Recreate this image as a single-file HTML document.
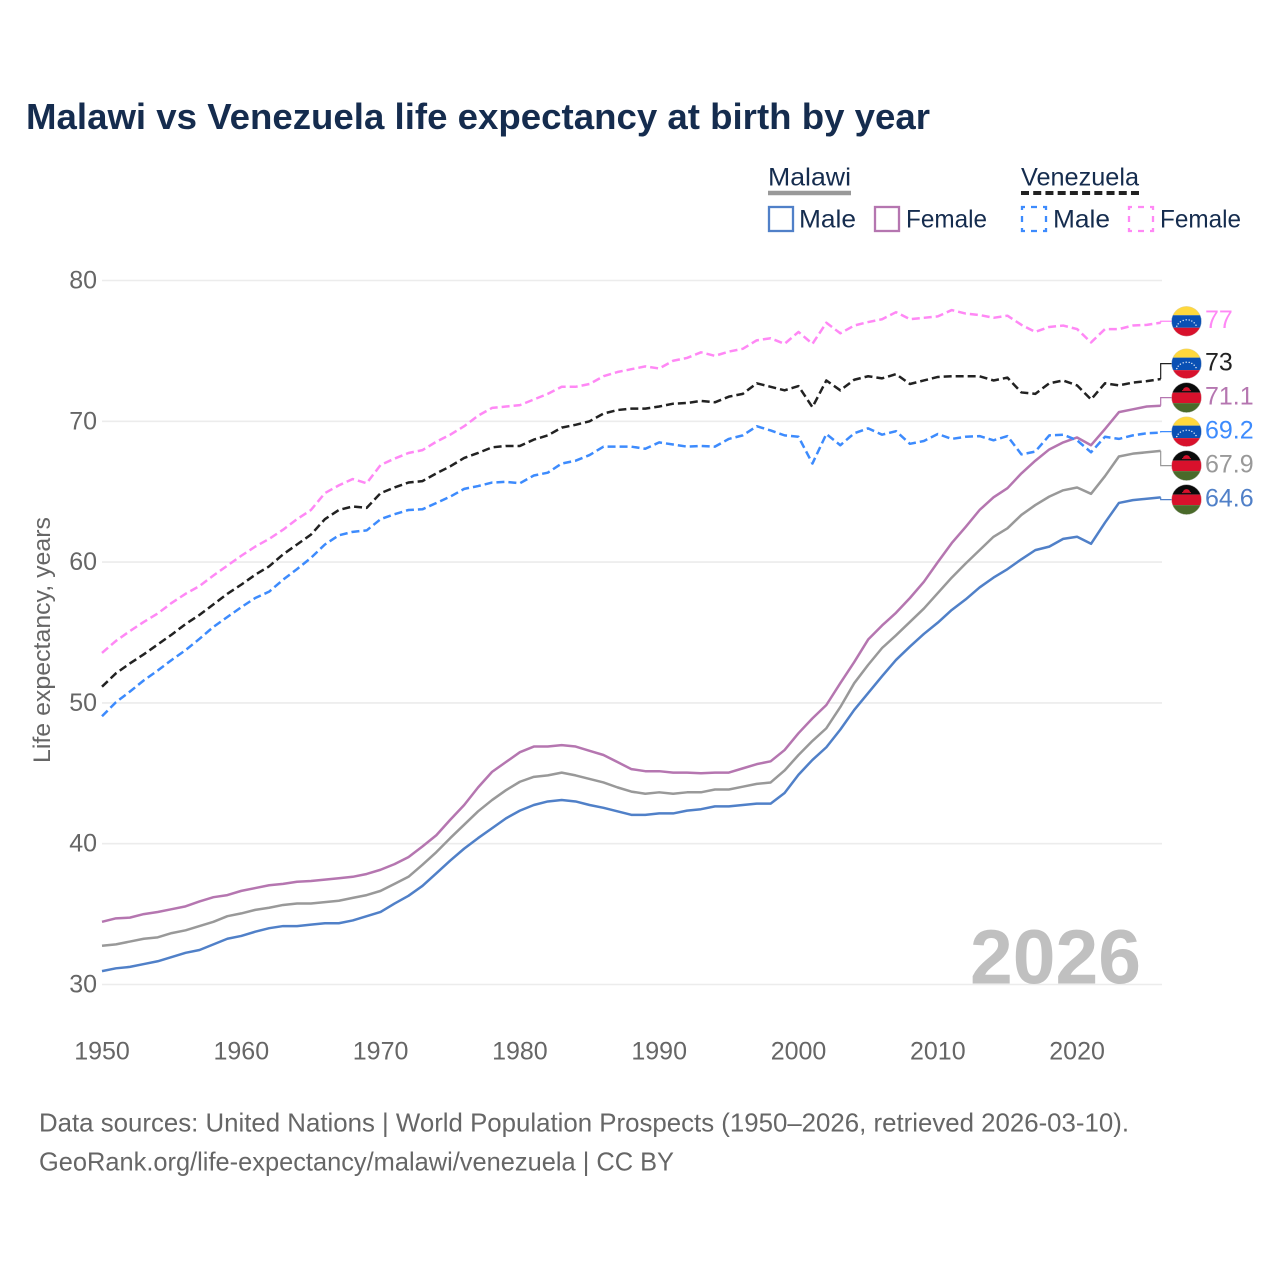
<!DOCTYPE html>
<html lang="en">
<head>
<meta charset="utf-8">
<title>Malawi vs Venezuela life expectancy at birth by year</title>
<style>
  html, body { margin: 0; padding: 0; background: #fff; }
  svg { display: block; font-family: "Liberation Sans", sans-serif; }
</style>
</head>
<body>
<svg id="chart" xmlns="http://www.w3.org/2000/svg" width="1280" height="1280" viewBox="0 0 1280 1280">
  <defs>
    <clipPath id="flag-clip"><circle cx="0" cy="0" r="15"/></clipPath>
  </defs>
  <rect width="1280" height="1280" fill="#fff"/>
  <text x="26" y="129" font-size="36" font-weight="700" fill="#152c4e" textLength="904" lengthAdjust="spacingAndGlyphs">Malawi vs Venezuela life expectancy at birth by year</text>

  <g>
    <text x="768" y="185.5" font-size="25" fill="#152c4e" textLength="83" lengthAdjust="spacingAndGlyphs">Malawi</text>
    <line x1="768" x2="851" y1="193" y2="193" stroke="#999" stroke-width="4.5"/>
    <text x="1021" y="185.5" font-size="25" fill="#152c4e" textLength="118" lengthAdjust="spacingAndGlyphs">Venezuela</text>
    <line x1="1021" x2="1139" y1="193" y2="193" stroke="#222" stroke-width="4" stroke-dasharray="8 4.22"/>

    <rect x="769" y="207" width="24" height="24" fill="none" stroke="#5080c8" stroke-width="2.3"/>
    <text x="799" y="227.5" font-size="25" fill="#152c4e" textLength="57" lengthAdjust="spacingAndGlyphs">Male</text>
    <rect x="875" y="207" width="24" height="24" fill="none" stroke="#b576b0" stroke-width="2.3"/>
    <text x="906" y="227.5" font-size="25" fill="#152c4e" textLength="81" lengthAdjust="spacingAndGlyphs">Female</text>
    <rect x="1022" y="207" width="24" height="24" fill="none" stroke="#3d8bfd" stroke-width="2.3" stroke-dasharray="6 6" stroke-dashoffset="3"/>
    <text x="1053" y="227.5" font-size="25" fill="#152c4e" textLength="57" lengthAdjust="spacingAndGlyphs">Male</text>
    <rect x="1129" y="207" width="24" height="24" fill="none" stroke="#ff88f5" stroke-width="2.3" stroke-dasharray="6 6" stroke-dashoffset="3"/>
    <text x="1160" y="227.5" font-size="25" fill="#152c4e" textLength="81" lengthAdjust="spacingAndGlyphs">Female</text>
  </g>

  <g id="grid"></g>
  <g id="y-ticks"></g>
  <g id="x-ticks"></g>
  <text transform="translate(50,640) rotate(-90)" text-anchor="middle" font-size="24" fill="#666" textLength="246" lengthAdjust="spacingAndGlyphs">Life expectancy, years</text>

  <text x="970" y="983.5" font-size="77" font-weight="700" fill="#c0c0c0" textLength="171" lengthAdjust="spacingAndGlyphs">2026</text>

  <g id="series"></g>
  <g id="labels"></g>

  <text x="39" y="1131.5" font-size="26" fill="#666" textLength="1090" lengthAdjust="spacingAndGlyphs">Data sources: United Nations | World Population Prospects (1950–2026, retrieved 2026-03-10).</text>
  <text x="39" y="1170.5" font-size="26" fill="#666" textLength="635" lengthAdjust="spacingAndGlyphs">GeoRank.org/life-expectancy/malawi/venezuela | CC BY</text>
</svg>

<script>
const firstYear = 1950;
const yTicks = [30, 40, 50, 60, 70, 80];
const xTicks = [1950, 1960, 1970, 1980, 1990, 2000, 2010, 2020];

const malawiMale = [
  30.95,31.15,31.25,31.45,31.65,31.95,32.25,32.45,32.85,33.25,
  33.45,33.75,34.0,34.15,34.15,34.25,34.35,34.35,34.55,34.85,
  35.15,35.75,36.3,37.0,37.9,38.8,39.65,40.4,41.1,41.8,
  42.35,42.75,43.0,43.1,43.0,42.75,42.55,42.3,42.05,42.05,
  42.15,42.15,42.35,42.45,42.65,42.65,42.75,42.85,42.85,43.6,
  44.9,45.95,46.85,48.1,49.5,50.7,51.9,53.05,54.0,54.9,
  55.7,56.6,57.35,58.2,58.9,59.5,60.2,60.85,61.1,61.65,
  61.8,61.3,62.8,64.2,64.4,64.5,64.6];
const malawiFemale = [
  34.45,34.7,34.75,35.0,35.15,35.35,35.55,35.9,36.2,36.35,
  36.65,36.85,37.05,37.15,37.3,37.35,37.45,37.55,37.65,37.85,
  38.15,38.55,39.05,39.8,40.6,41.7,42.75,44.0,45.1,45.8,
  46.5,46.9,46.9,47.0,46.9,46.6,46.3,45.8,45.3,45.15,
  45.15,45.05,45.05,45.0,45.05,45.05,45.35,45.65,45.85,46.65,
  47.85,48.9,49.85,51.4,52.9,54.5,55.5,56.4,57.45,58.6,
  60.0,61.35,62.5,63.7,64.6,65.25,66.3,67.2,68.0,68.5,
  68.85,68.3,69.45,70.65,70.85,71.05,71.1];
const malawiBoth = [
  32.75,32.85,33.05,33.25,33.35,33.65,33.85,34.15,34.45,34.85,
  35.05,35.3,35.45,35.65,35.75,35.75,35.85,35.95,36.15,36.35,
  36.65,37.15,37.65,38.5,39.4,40.4,41.35,42.3,43.1,43.8,
  44.4,44.75,44.85,45.05,44.85,44.6,44.35,44.0,43.7,43.55,
  43.65,43.55,43.65,43.65,43.85,43.85,44.05,44.25,44.35,45.2,
  46.3,47.3,48.2,49.7,51.4,52.7,53.9,54.8,55.75,56.7,
  57.8,58.9,59.9,60.85,61.8,62.4,63.35,64.05,64.65,65.1,
  65.3,64.85,66.1,67.5,67.7,67.8,67.9];
const venezuelaMale = [
  49.05,50.05,50.8,51.6,52.3,53.05,53.75,54.55,55.4,56.1,
  56.8,57.45,57.9,58.75,59.5,60.3,61.25,61.9,62.15,62.25,
  63.05,63.4,63.7,63.75,64.2,64.65,65.2,65.4,65.65,65.7,
  65.6,66.15,66.35,67.0,67.2,67.6,68.2,68.2,68.2,68.05,
  68.5,68.35,68.2,68.25,68.2,68.75,69.0,69.65,69.35,69.0,
  68.9,67.0,69.1,68.3,69.15,69.5,69.05,69.3,68.4,68.6,
  69.1,68.75,68.9,68.95,68.65,68.95,67.65,67.85,69.0,69.05,
  68.65,67.8,68.9,68.75,69.0,69.15,69.2];
const venezuelaFemale = [
  53.55,54.4,55.1,55.75,56.35,57.1,57.75,58.3,59.05,59.75,
  60.45,61.1,61.65,62.3,63.05,63.7,64.9,65.45,65.9,65.6,
  66.9,67.35,67.75,67.95,68.55,69.05,69.65,70.4,70.95,71.05,
  71.15,71.55,71.95,72.45,72.45,72.65,73.2,73.5,73.7,73.9,
  73.75,74.3,74.5,74.9,74.65,74.95,75.15,75.75,75.9,75.5,
  76.35,75.5,77.0,76.25,76.8,77.05,77.25,77.75,77.25,77.35,
  77.45,77.9,77.65,77.55,77.35,77.5,76.85,76.35,76.7,76.8,
  76.55,75.6,76.55,76.55,76.8,76.85,77];
const venezuelaBoth = [
  51.15,52.1,52.8,53.45,54.15,54.85,55.6,56.25,57.0,57.75,
  58.4,59.1,59.7,60.55,61.25,61.95,63.05,63.7,63.95,63.85,
  64.9,65.3,65.65,65.75,66.3,66.8,67.4,67.75,68.15,68.25,
  68.25,68.7,69.0,69.55,69.75,70.0,70.55,70.8,70.9,70.9,
  71.05,71.25,71.3,71.45,71.35,71.75,71.95,72.7,72.45,72.2,
  72.5,71.0,72.9,72.2,72.95,73.2,73.05,73.35,72.65,72.9,
  73.15,73.2,73.2,73.2,72.9,73.1,72.05,71.95,72.7,72.9,
  72.55,71.55,72.7,72.55,72.75,72.85,73];

const NS = 'http://www.w3.org/2000/svg';
const xScale = function (year) { return 102 + (year - 1950) * 13.93; };
const yScale = function (value) { return 984.5 - (value - 30) * 14.08; };

const seriesList = [
  { key: 'malawi-male', values: malawiMale, color: '#5080c8', dash: '', flag: 'mw' },
  { key: 'malawi-female', values: malawiFemale, color: '#b576b0', dash: '', flag: 'mw' },
  { key: 'malawi-both', values: malawiBoth, color: '#999999', dash: '', flag: 'mw' },
  { key: 'venezuela-male', values: venezuelaMale, color: '#3d8bfd', dash: '8 4', flag: 've' },
  { key: 'venezuela-female', values: venezuelaFemale, color: '#ff88f5', dash: '8 4', flag: 've' },
  { key: 'venezuela-both', values: venezuelaBoth, color: '#222222', dash: '8 4', flag: 've' }
];

function make(tag, attrs, parent) {
  const el = document.createElementNS(NS, tag);
  Object.keys(attrs).forEach(function (k) { el.setAttribute(k, attrs[k]); });
  if (parent) parent.appendChild(el);
  return el;
}

const gridGroup = document.getElementById('grid');
const yTickGroup = document.getElementById('y-ticks');
const xTickGroup = document.getElementById('x-ticks');
const seriesGroup = document.getElementById('series');
const labelGroup = document.getElementById('labels');

yTicks.forEach(function (t) {
  const line = make('line', { x1: 102, x2: 1162, y1: yScale(t), y2: yScale(t), stroke: '#ececec', 'stroke-width': 1.6 }, gridGroup);
  
  
  const label = make('text', { x: 97, y: yScale(t) + 8, 'text-anchor': 'end', 'font-size': 25, fill: '#666' }, yTickGroup);
  
  
  label.textContent = t;
});

xTicks.forEach(function (t) {
  const label = make('text', { x: xScale(t), y: 1059.5, 'text-anchor': 'middle', 'font-size': 25, fill: '#666' }, xTickGroup);
  
  
  label.textContent = t;
});

seriesList.forEach(function (s) {
  const points = s.values.map(function (v, i) {
    return xScale(firstYear + i).toFixed(2) + ',' + yScale(v).toFixed(2);
  });
  const attrs = { d: 'M' + points.join('L'), fill: 'none', stroke: s.color, 'stroke-width': 2.5, 'stroke-linejoin': 'round' };
  if (s.dash) attrs['stroke-dasharray'] = s.dash;
  const path = make('path', attrs, seriesGroup);
  
  
});

/* dodge end labels: overlapping labels are merged in clusters centred on their true positions */
const LABEL_GAP = 34;
const LABEL_SHIFT = -1.5;
const ordered = seriesList.map(function (s) {
  return { s: s, last: s.values[s.values.length - 1], trueY: yScale(s.values[s.values.length - 1]) };
}).sort(function (a, b) { return a.trueY - b.trueY; });

let clusters = ordered.map(function (o) { return { items: [o], sum: o.trueY }; });
function clusterTop(c) { return c.sum / c.items.length - (c.items.length - 1) * LABEL_GAP / 2; }
let merged = true;
while (merged) {
  merged = false;
  for (let i = 0; i < clusters.length - 1; i++) {
    const a = clusters[i], b = clusters[i + 1];
    if (clusterTop(a) + (a.items.length - 1) * LABEL_GAP + LABEL_GAP > clusterTop(b)) {
      clusters.splice(i, 2, { items: a.items.concat(b.items), sum: a.sum + b.sum });
      merged = true;
      break;
    }
  }
}
clusters.forEach(function (c) {
  const top = clusterTop(c);
  c.items.forEach(function (o, i) { o.labelY = top + i * LABEL_GAP + LABEL_SHIFT; });
});

function drawFlag(parent, kind, cy) {
  const g = make('g', { transform: 'translate(1186.5,' + cy + ')', 'clip-path': 'url(#flag-clip)' }, parent);
  
  
  if (kind === 've') {
    make('rect', { x: -16, y: -16, width: 32, height: 10, fill: '#ffd83d' }, g);
    make('rect', { x: -16, y: -6, width: 32, height: 12.5, fill: '#0a50b4' }, g);
    make('rect', { x: -16, y: 6.5, width: 32, height: 10, fill: '#d8112c' }, g);
    [[-10,5],[-8.6,2.6],[-6.4,0.6],[-3.6,-0.8],[-0.6,-1.4],[2.4,-1.2],[5,-0.2],[7.4,1.6],[9.2,4]].forEach(function (d) {
      make('circle', { cx: d[0] + 0.3, cy: d[1], r: 0.7, fill: '#e8eef8' }, g);
    });
  } else {
    make('rect', { x: -16, y: -16, width: 32, height: 11, fill: '#0a0a0a' }, g);
    make('rect', { x: -16, y: -5, width: 32, height: 10.5, fill: '#d8112c' }, g);
    make('rect', { x: -16, y: 5.5, width: 32, height: 11, fill: '#4a6a2a' }, g);
    make('path', { d: 'M-3.5,-7.5 A3.5,3 0 0 1 3.5,-7.5 Z', fill: '#d8112c' }, g);
    make('rect', { x: -4.5, y: -7.5, width: 9, height: 1, fill: '#d8112c' }, g);
  }
  make('circle', { cx: 0, cy: 0, r: 15, fill: 'none', stroke: '#cccccc', 'stroke-width': 0.8, 'stroke-opacity': 0.7 }, g);
}

ordered.forEach(function (o) {
  const endX = xScale(firstYear + o.s.values.length - 1);
  const connector = make('path', {
    d: 'M' + endX.toFixed(2) + ',' + o.trueY.toFixed(2) + 'V' + o.labelY.toFixed(2) + 'H1172',
    fill: 'none', stroke: o.s.color, 'stroke-width': 1.2
  }, labelGroup);
  
  
  drawFlag(labelGroup, o.s.flag, o.labelY);
  const label = make('text', { x: 1205, y: o.labelY + 7, 'font-size': 25, fill: o.s.color }, labelGroup);
  
  
  label.textContent = String(o.last);
});
</script>
</body>
</html>
